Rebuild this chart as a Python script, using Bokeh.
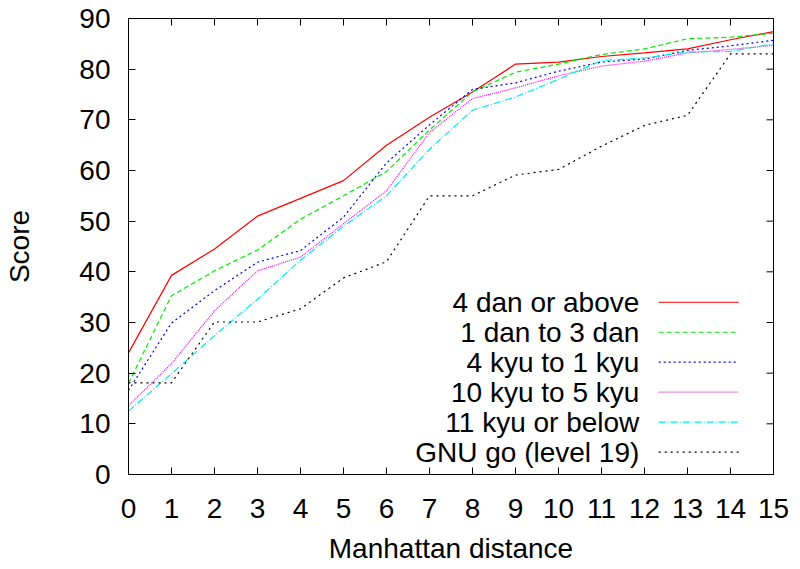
from bokeh.plotting import figure
from bokeh.models import FixedTicker, Label, Range1d
from bokeh.embed import file_html
from bokeh.resources import INLINE

# ---- data ----
distance = list(range(16))
x_ticks = list(range(16))
y_ticks = [0, 10, 20, 30, 40, 50, 60, 70, 80, 90]

dan4_above = [24, 39.3, 44.5, 51, 54.5, 58, 65, 70.5, 75.5, 81, 81.4, 82.5, 83.2, 84, 85.8, 87.4]
dan1_to_3 = [18, 35.3, 40.2, 44.3, 50.4, 55, 59.8, 68, 75.5, 79.4, 81, 82.9, 84, 86, 86.3, 87.1]
kyu4_to_1 = [16.6, 29.9, 36.3, 41.9, 44.2, 50.8, 61.5, 69, 76, 77.3, 79.6, 81.4, 82, 83.7, 84.6, 85.7]
kyu10_to_5 = [13.6, 21.9, 32.3, 40.2, 42.9, 49.5, 56, 67.5, 74.2, 76.3, 78.7, 80.6, 81.6, 83.2, 83.9, 84.7]
kyu11_below = [12.5, 19.9, 27.4, 34.6, 42.3, 49, 55, 64.2, 71.9, 74.5, 78, 81.7, 82.2, 83.4, 83.5, 85]
gnugo_19 = [18.1, 18.1, 30.1, 30.1, 32.7, 38.8, 42, 55, 55, 59.1, 60.2, 64.8, 68.9, 70.9, 83, 83]

series_labels = ["4 dan or above", "1 dan to 3 dan", "4 kyu to 1 kyu",
                 "10 kyu to 5 kyu", "11 kyu or below", "GNU go (level 19)"]
series_values = [dan4_above, dan1_to_3, kyu4_to_1, kyu10_to_5, kyu11_below, gnugo_19]
series_colors = ["#ff0000", "#00ee00", "#0000ff", "#ff00ff", "#00eeee", "#000000"]
series_dashes = ["solid", "5 3", "2 3", "1 1", "7 2 1 2", "2 4"]

FONT = "Liberation Sans"
FS = "28px"

X0, X1, Y0, Y1 = 0, 15, 0, 90
W, H = 790, 567
BL, BR, BT, BB = 128, 17, 18, 93
FRAME_W, FRAME_H = W - BL - BR, H - BT - BB
TICK_PX = 7

p = figure(width=W, height=H, x_range=Range1d(X0, X1), y_range=Range1d(Y0, Y1),
           output_backend="svg", toolbar_location=None,
           min_border_left=BL, min_border_right=BR, min_border_top=BT, min_border_bottom=BB)
p.grid.visible = False
p.outline_line_color = "black"
p.outline_line_width = 1
p.background_fill_color = "white"
p.border_fill_color = "white"

for ax in (p.xaxis[0], p.yaxis[0]):
    ax.major_tick_in = TICK_PX
    ax.major_tick_out = 0
    ax.minor_tick_line_color = None
    ax.axis_line_color = "black"
    ax.major_tick_line_color = "black"
    ax.major_label_text_font = FONT
    ax.major_label_text_font_size = FS
    ax.major_label_text_color = "black"
    ax.axis_label_text_font = FONT
    ax.axis_label_text_font_size = FS
    ax.axis_label_text_font_style = "normal"
    ax.axis_label_text_color = "black"

p.xaxis[0].ticker = FixedTicker(ticks=x_ticks)
p.yaxis[0].ticker = FixedTicker(ticks=y_ticks)
p.xaxis[0].axis_label = "Manhattan distance"
p.yaxis[0].axis_label = "Score"
p.xaxis[0].major_label_standoff = 24
p.xaxis[0].axis_label_standoff = 12
p.yaxis[0].major_label_standoff = 18
p.yaxis[0].axis_label_standoff = 41

# mirror ticks on top and right edges (gnuplot style)
dy_tick = TICK_PX * (Y1 - Y0) / FRAME_H
dx_tick = TICK_PX * (X1 - X0) / FRAME_W
p.segment(x0=x_ticks, y0=[Y1] * len(x_ticks), x1=x_ticks, y1=[Y1 - dy_tick] * len(x_ticks),
          line_color="black", line_width=1)
p.segment(x0=[X1] * len(y_ticks), y0=y_ticks, x1=[X1 - dx_tick] * len(y_ticks), y1=y_ticks,
          line_color="black", line_width=1)

# ---- series ----
for vals, col, dash in zip(series_values, series_colors, series_dashes):
    p.line(distance, vals, line_color=col, line_width=1.2, line_dash=dash)

# ---- legend (gnuplot style: text right, sample line on the right) ----
leg_text_x = 11.88
leg_line_x0, leg_line_x1 = 12.33, 14.19
leg_top_y = 34.0
leg_step = 5.92
for i, (lab, col, dash) in enumerate(zip(series_labels, series_colors, series_dashes)):
    yy = leg_top_y - i * leg_step
    p.add_layout(Label(x=leg_text_x, y=yy, text=lab, text_align="right", text_baseline="middle",
                       text_font=FONT, text_font_size=FS, text_color="black"))
    p.line([leg_line_x0, leg_line_x1], [yy, yy], line_color=col, line_width=1.2, line_dash=dash)

open("out.html", "w").write(file_html(p, INLINE))
